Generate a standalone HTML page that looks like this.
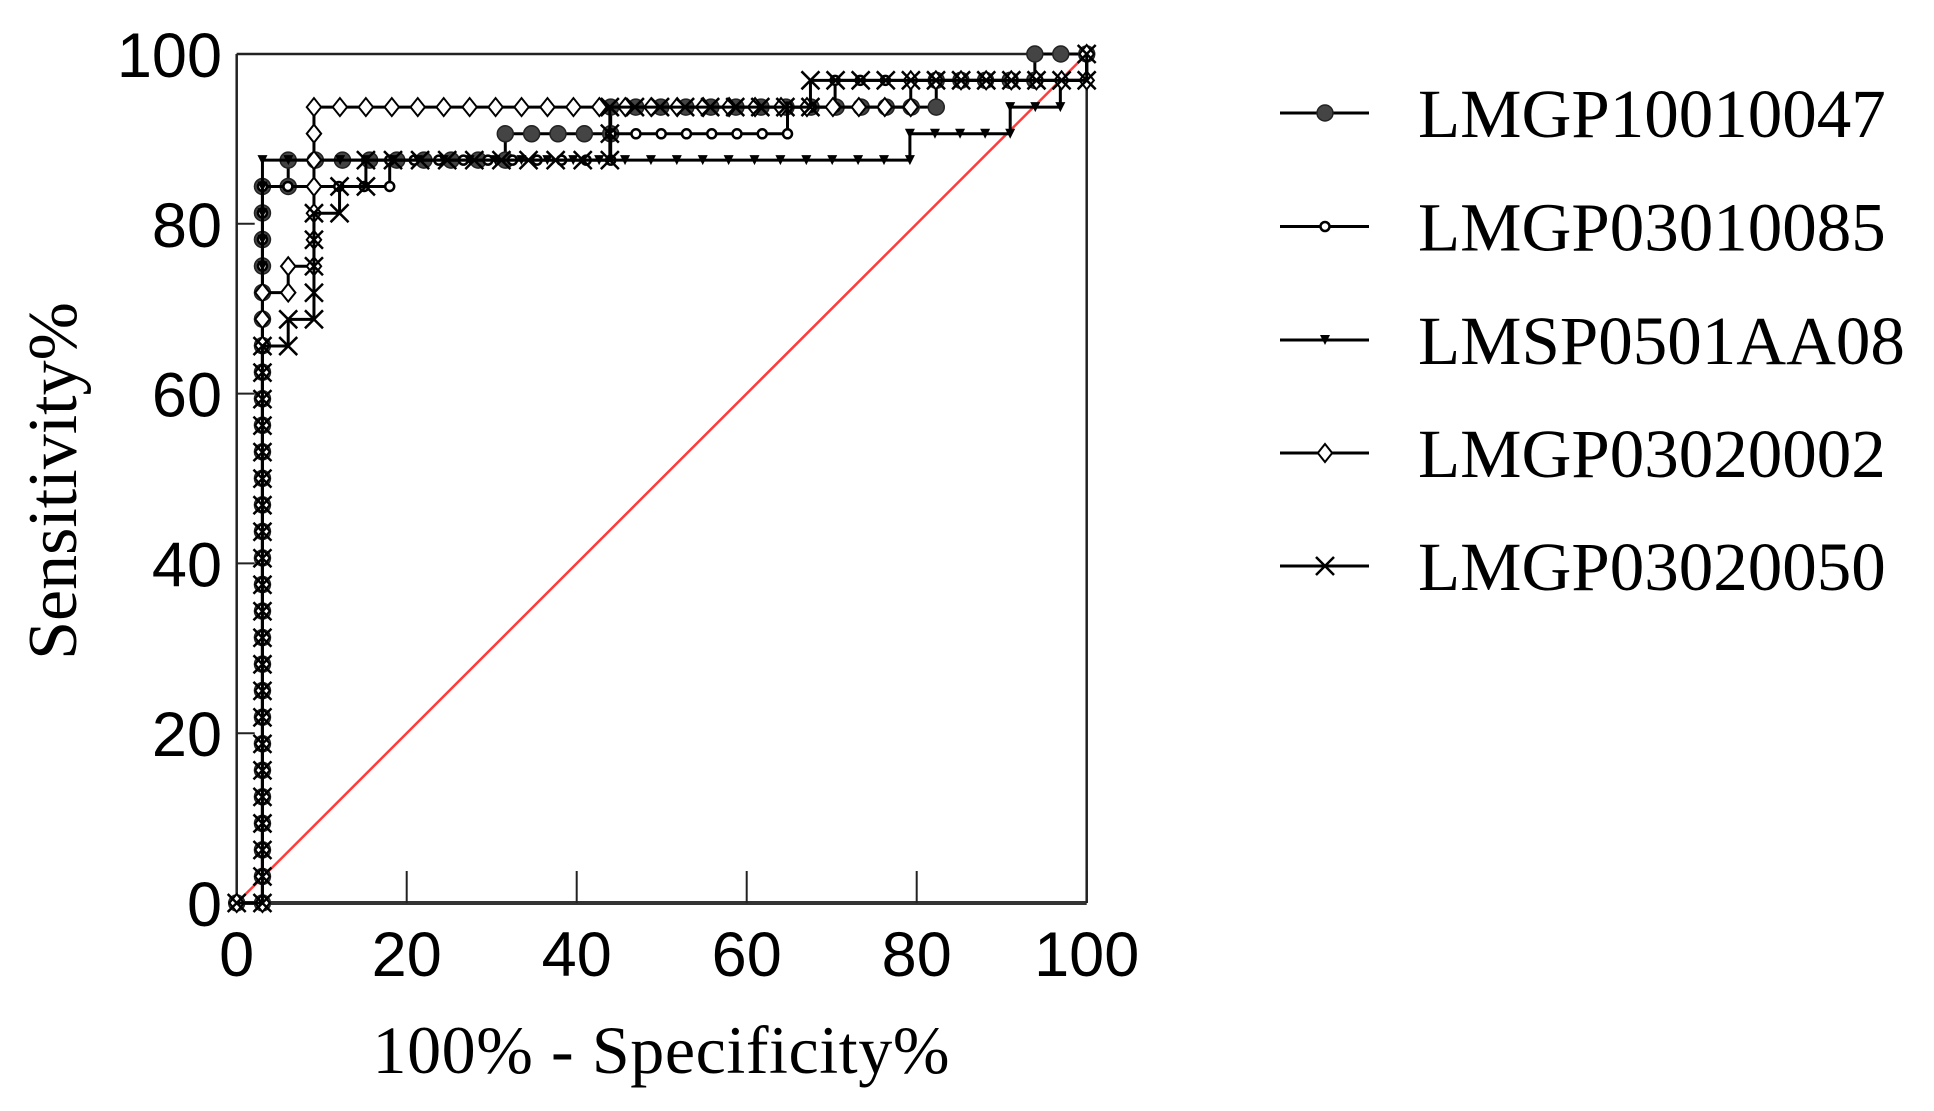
<!DOCTYPE html>
<html><head><meta charset="utf-8"><style>
html,body{margin:0;padding:0;background:#fff;}
svg{display:block;}
</style></head><body>
<svg id="chart" width="1934" height="1111" viewBox="0 0 1934 1111" xmlns="http://www.w3.org/2000/svg">
<g id="plot"></g>
</svg>
<script>
const seriesNames = ["LMGP10010047","LMGP03010085","LMSP0501AA08","LMGP03020002","LMGP03020050"];
const markerTypes = ["circle","smallcircle","triangle","diamond","cross"];
const s1x = [0,3.03,3.03,6.06,6.06,31.6,31.6,44,44,82.3,82.3,93.9,93.9,100];
const s1y = [0,0,84.4,84.4,87.5,87.5,90.6,90.6,93.75,93.75,96.9,96.9,100,100];
const s2x = [0,3.03,3.03,18,18,44,44,64.8,64.8,70.4,70.4,100,100];
const s2y = [0,0,84.4,84.4,87.5,87.5,90.6,90.6,93.75,93.75,96.9,96.9,100];
const s3x = [0,3.03,3.03,79.2,79.2,91,91,96.9,96.9,100,100];
const s3y = [0,0,87.5,87.5,90.6,90.6,93.75,93.75,96.9,96.9,100];
const s4x = [0,3.03,3.03,6.06,6.06,9.09,9.09,79.3,79.3,100,100];
const s4y = [0,0,71.9,71.9,75,75,93.75,93.75,96.9,96.9,100];
const s5x = [0,3.03,3.03,6.06,6.06,9.09,9.09,12.1,12.1,15.2,15.2,43.9,43.9,67.5,67.5,100,100];
const s5y = [0,0,65.6,65.6,68.75,68.75,81.25,81.25,84.4,84.4,87.5,87.5,93.75,93.75,96.9,96.9,100];
const xTicks = [0,20,40,60,80,100];
const yTicks = [0,20,40,60,80,100];
const xTickLabels = ["0","20","40","60","80","100"];
const yTickLabels = ["0","20","40","60","80","100"];
const diagX = [0,100];
const diagY = [0,100];

const NS="http://www.w3.org/2000/svg";
const L=236.7,R=1086.7,T=54,B=903;
const X=v=>L+(R-L)*v/100;
const Y=v=>B-(B-T)*v/100;
const plot=document.getElementById('plot');
function mk(tag,attrs,parent){const e=document.createElementNS(NS,tag);for(const k in attrs)e.setAttribute(k,attrs[k]);(parent||plot).appendChild(e);return e;}

// axes frame
let ax=mk('line',{x1:L,y1:T,x2:R,y2:T,stroke:'#222','stroke-width':2.5});


ax=mk('line',{x1:R,y1:T,x2:R,y2:B,stroke:'#222','stroke-width':2.5});


ax=mk('line',{x1:L,y1:T,x2:L,y2:B+1,stroke:'#222','stroke-width':2.5});


ax=mk('line',{x1:L,y1:B,x2:R,y2:B,stroke:'#333','stroke-width':4});



xTicks.forEach((t,i)=>{
  const tk=mk('line',{x1:X(t),y1:B,x2:X(t),y2:B-32,stroke:'#222','stroke-width':2});
  
  
  const tx=mk('text',{x:X(t),y:976,'font-family':'"Liberation Sans",sans-serif','font-size':63,'text-anchor':'middle',fill:'#000'});
  tx.textContent=xTickLabels[i];
  
  
});
yTicks.forEach((t,i)=>{
  const tk=mk('line',{x1:L,y1:Y(t),x2:L+18,y2:Y(t),stroke:'#222','stroke-width':2});
  
  
  const tx=mk('text',{x:222,y:Y(t)+23,'font-family':'"Liberation Sans",sans-serif','font-size':63,'text-anchor':'end',fill:'#000'});
  tx.textContent=yTickLabels[i];
  
  
});

// diagonal
const dg=mk('line',{x1:X(diagX[0]),y1:Y(diagY[0]),x2:X(diagX[1]),y2:Y(diagY[1]),stroke:'#ff3b3b','stroke-width':2.5});



function marker(type,cx,cy,g,scale){
  scale=scale||1;let e;
  if(type==='circle'){e=mk('circle',{cx,cy,r:8*scale,fill:'#444',stroke:'#222','stroke-width':1.5},g);}
  else if(type==='smallcircle'){e=mk('circle',{cx,cy,r:4.5*scale,fill:'#fff',stroke:'#000','stroke-width':2.5},g);}
  else if(type==='triangle'){const s=5*scale;e=mk('path',{d:`M${cx-s},${cy-s}L${cx+s},${cy-s}L${cx},${cy+s}Z`,fill:'#000'},g);}
  else if(type==='diamond'){const s=9*scale;e=mk('path',{d:`M${cx},${cy-s}L${cx+s*0.8},${cy}L${cx},${cy+s}L${cx-s*0.8},${cy}Z`,fill:'#fff',stroke:'#000','stroke-width':2},g);}
  else {const s=9*scale;e=mk('path',{d:`M${cx-s},${cy-s}L${cx+s},${cy+s}M${cx+s},${cy-s}L${cx-s},${cy+s}`,stroke:'#000','stroke-width':2.5,fill:'none'},g);}
  return e;
}

const allX=[s1x,s2x,s3x,s4x,s5x], allY=[s1y,s2y,s3y,s4y,s5y];
const DX=100/33, DY=100/32;
allX.forEach((xs,si)=>{
  const ys=allY[si];
  const g=mk('g',{});
  
  
  const pts=xs.map((x,i)=>X(x)+','+Y(ys[i])).join(' ');
  const pl=mk('polyline',{points:pts,fill:'none',stroke:'#000','stroke-width':3},g);
  
  
  // markers along each segment at the data grid step
  for(let i=0;i<xs.length;i++){
    const m=marker(markerTypes[si],X(xs[i]),Y(ys[i]),g);
    
    
    if(i<xs.length-1){
      const x0=xs[i],y0=ys[i],x1=xs[i+1],y1=ys[i+1];
      if(y0===y1){const n=Math.round(Math.abs(x1-x0)/DX);for(let k=1;k<n;k++){const mm=marker(markerTypes[si],X(x0+(x1-x0)*k/n),Y(y0),g);}}
      else {const n=Math.round(Math.abs(y1-y0)/DY);for(let k=1;k<n;k++){const mm=marker(markerTypes[si],X(x0),Y(y0+(y1-y0)*k/n),g);}}
    }
  }
});

// axis titles
const yt=mk('text',{x:0,y:0,transform:'translate(76,481) rotate(-90)','font-family':'"Liberation Serif",serif','font-size':70,'text-anchor':'middle',fill:'#000'});
yt.textContent='Sensitivity%';


const xt=mk('text',{x:661,y:1073,'font-family':'"Liberation Serif",serif','font-size':68,'text-anchor':'middle',textLength:577,fill:'#000'});
xt.textContent='100% - Specificity%';



// legend
const legendY=[113,226.5,340,453,566];
seriesNames.forEach((n,i)=>{
  const g=mk('g',{});
  
  
  const ln=mk('line',{x1:1280,y1:legendY[i],x2:1369,y2:legendY[i],stroke:'#000','stroke-width':3},g);
  
  
  const m=marker(markerTypes[i],1325,legendY[i],g);
  
  
  const t=mk('text',{x:1418,y:legendY[i]+24,'font-family':'"Liberation Serif",serif','font-size':69,fill:'#000'},g);
  t.textContent=n;
  
  
});
</script>
</body></html>
